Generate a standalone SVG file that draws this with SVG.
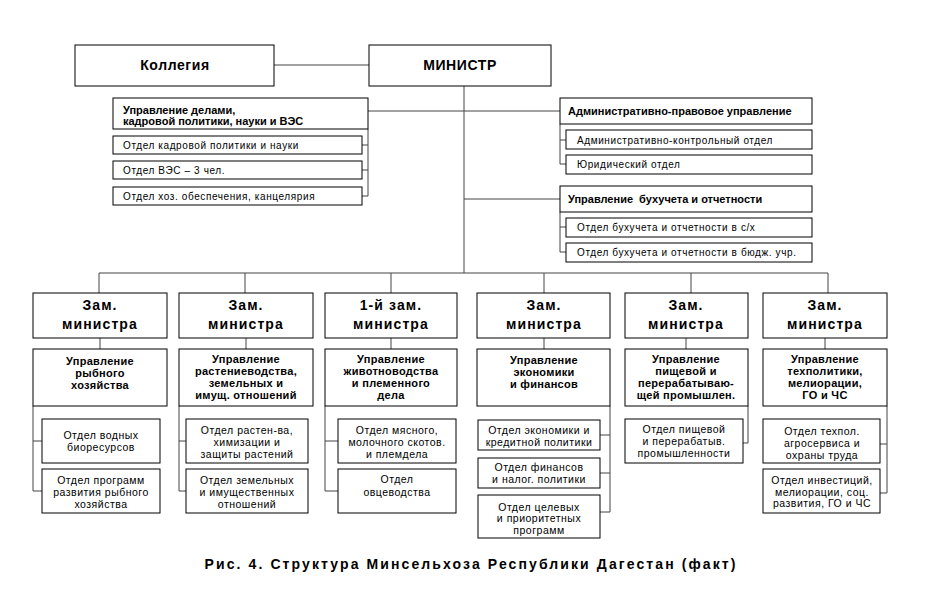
<svg xmlns="http://www.w3.org/2000/svg" width="928" height="600" viewBox="0 0 928 600">
<style>
rect{fill:#fff;stroke:#000;stroke-width:1}
text{font-family:"Liberation Sans",Arial,sans-serif;fill:#000}
.h{font-size:14px;font-weight:bold;letter-spacing:0.6px;text-anchor:middle}
.z{font-size:14px;font-weight:bold;letter-spacing:1.1px;text-anchor:middle}
.b{font-size:11px;font-weight:bold}
.bc{font-size:11px;font-weight:bold;letter-spacing:0.3px;text-anchor:middle}
.s{font-size:10px;letter-spacing:0.6px}
.oc{font-size:10.5px;letter-spacing:0.5px;text-anchor:middle}
.cap{font-size:14px;font-weight:bold;letter-spacing:2.1px;text-anchor:middle}
#connectors path{fill:none;stroke:#444;stroke-width:1}
</style>
<rect x="0" y="0" width="928" height="600" style="fill:#fff;stroke:none"/>
<g id="connectors">
<path d="M274,65H369"/>
<path d="M464,86V273"/>
<path d="M368,111H560"/>
<path d="M464,199H560"/>
<path d="M368,129V196M362,145H368M362,170H368M362,196H368"/>
<path d="M560,124V164M560,140H566M560,164H566"/>
<path d="M560,212V252M560,227H566M560,252H566"/>
<path d="M99,273H828"/>
<path d="M99,273V293M245,273V293M391,273V293M544,273V293M691,273V293M828,273V293"/>
<path d="M100,338V349M246,338V349M391,338V349M544,338V349M686,338V349M825,338V349"/>
<path d="M33,406V491M33,441H42M33,491H42"/>
<path d="M179,406V491M179,441H186M179,491H186"/>
<path d="M325,406V491M325,441H338M325,491H338"/>
<path d="M610,406V512M600,435H610M600,473H610M600,512H610"/>
<path d="M748,406V443M743,443H748"/>
<path d="M887,406V493M880,444H887M880,493H887"/>
</g>
<g id="kollegiya"><rect x="75" y="45" width="199" height="41"/><text class="h" x="175" y="70">Коллегия</text></g>
<g id="ministr"><rect x="369" y="45" width="182" height="41"/><text class="h" x="460" y="70">МИНИСТР</text></g>
<g id="upr-delami"><rect x="113" y="98" width="255" height="31"/><text class="b" x="123" y="114">Управление делами,</text><text class="b" x="123" y="125">кадровой политики, науки и ВЭС</text></g>
<g id="otd-kadr"><rect x="113" y="136" width="249" height="18"/><text class="s" x="123" y="149">Отдел кадровой политики и науки</text></g>
<g id="otd-ves"><rect x="113" y="161" width="249" height="18"/><text class="s" x="123" y="174">Отдел ВЭС – 3 чел.</text></g>
<g id="otd-hoz"><rect x="113" y="187" width="249" height="18"/><text class="s" x="123" y="200">Отдел хоз. обеспечения, канцелярия</text></g>
<g id="upr-admin"><rect x="560" y="98" width="252" height="26"/><text class="b" x="568" y="115">Административно-правовое управление</text></g>
<g id="otd-admkontr"><rect x="566" y="130" width="246" height="19"/><text class="s" x="577" y="144">Административно-контрольный отдел</text></g>
<g id="otd-yur"><rect x="566" y="155" width="246" height="19"/><text class="s" x="577" y="168">Юридический отдел</text></g>
<g id="upr-buh"><rect x="560" y="186" width="252" height="26"/><text class="b" x="568" y="203" xml:space="preserve">Управление  бухучета и отчетности</text></g>
<g id="otd-buh-sx"><rect x="566" y="218" width="246" height="19"/><text class="s" x="577" y="231">Отдел бухучета и отчетности в с/х</text></g>
<g id="otd-buh-bud"><rect x="566" y="243" width="246" height="19"/><text class="s" x="577" y="256">Отдел бухучета и отчетности в бюдж. учр.</text></g>

<g id="zam1"><rect x="33" y="293" width="134" height="45"/><text class="z" x="100" y="310">Зам.</text><text class="z" x="100" y="329">министра</text></g>
<g id="zam2"><rect x="179" y="293" width="134" height="45"/><text class="z" x="246" y="310">Зам.</text><text class="z" x="246" y="329">министра</text></g>
<g id="zam3"><rect x="325" y="293" width="132" height="45"/><text class="z" x="391" y="310">1-й зам.</text><text class="z" x="391" y="329">министра</text></g>
<g id="zam4"><rect x="477" y="293" width="133" height="45"/><text class="z" x="544" y="310">Зам.</text><text class="z" x="544" y="329">министра</text></g>
<g id="zam5"><rect x="625" y="293" width="123" height="45"/><text class="z" x="686" y="310">Зам.</text><text class="z" x="686" y="329">министра</text></g>
<g id="zam6"><rect x="763" y="293" width="124" height="45"/><text class="z" x="825" y="310">Зам.</text><text class="z" x="825" y="329">министра</text></g>

<g id="upr-ryb"><rect x="33" y="349" width="134" height="57"/><text class="bc" x="100" y="365">Управление</text><text class="bc" x="100" y="377">рыбного</text><text class="bc" x="100" y="389">хозяйства</text></g>
<g id="upr-rast"><rect x="179" y="349" width="134" height="57"/><text class="bc" x="246" y="363">Управление</text><text class="bc" x="246" y="375">растениеводства,</text><text class="bc" x="246" y="387">земельных и</text><text class="bc" x="246" y="399">имущ. отношений</text></g>
<g id="upr-zhiv"><rect x="325" y="349" width="132" height="57"/><text class="bc" x="391" y="363">Управление</text><text class="bc" x="391" y="375">животноводства</text><text class="bc" x="391" y="387">и племенного</text><text class="bc" x="391" y="399">дела</text></g>
<g id="upr-ekon"><rect x="477" y="349" width="133" height="57"/><text class="bc" x="544" y="364">Управление</text><text class="bc" x="544" y="376">экономики</text><text class="bc" x="544" y="388">и финансов</text></g>
<g id="upr-pish"><rect x="625" y="349" width="123" height="57"/><text class="bc" x="686" y="363">Управление</text><text class="bc" x="686" y="375">пищевой и</text><text class="bc" x="686" y="387">перерабатываю-</text><text class="bc" x="686" y="399">щей промышлен.</text></g>
<g id="upr-tehpol"><rect x="763" y="349" width="124" height="57"/><text class="bc" x="825" y="363">Управление</text><text class="bc" x="825" y="375">техполитики,</text><text class="bc" x="825" y="387">мелиорации,</text><text class="bc" x="825" y="399">ГО и ЧС</text></g>

<g id="otd-vodn"><rect x="42" y="419" width="118" height="44"/><text class="oc" x="101" y="439">Отдел водных</text><text class="oc" x="101" y="451">биоресурсов</text></g>
<g id="otd-progr"><rect x="42" y="469" width="118" height="44"/><text class="oc" x="101" y="484">Отдел программ</text><text class="oc" x="101" y="496">развития рыбного</text><text class="oc" x="101" y="508">хозяйства</text></g>
<g id="otd-rast"><rect x="186" y="419" width="122" height="44"/><text class="oc" x="247" y="434">Отдел растен-ва,</text><text class="oc" x="247" y="446">химизации и</text><text class="oc" x="247" y="458">защиты растений</text></g>
<g id="otd-zem"><rect x="186" y="469" width="122" height="44"/><text class="oc" x="247" y="484">Отдел земельных</text><text class="oc" x="247" y="496">и имущественных</text><text class="oc" x="247" y="508">отношений</text></g>
<g id="otd-myas"><rect x="338" y="419" width="118" height="44"/><text class="oc" x="397" y="434">Отдел мясного,</text><text class="oc" x="397" y="446">молочного скотов.</text><text class="oc" x="397" y="458">и племдела</text></g>
<g id="otd-ovc"><rect x="338" y="469" width="118" height="44"/><text class="oc" x="397" y="483">Отдел</text><text class="oc" x="397" y="496">овцеводства</text></g>
<g id="otd-ekon"><rect x="478" y="420" width="122" height="30"/><text class="oc" x="539" y="434">Отдел экономики и</text><text class="oc" x="539" y="446">кредитной политики</text></g>
<g id="otd-fin"><rect x="478" y="458" width="122" height="30"/><text class="oc" x="539" y="471">Отдел финансов</text><text class="oc" x="539" y="483">и налог. политики</text></g>
<g id="otd-cel"><rect x="478" y="495" width="122" height="43"/><text class="oc" x="539" y="511">Отдел целевых</text><text class="oc" x="539" y="522">и приоритетных</text><text class="oc" x="539" y="534">программ</text></g>
<g id="otd-pish"><rect x="625" y="419" width="118" height="44"/><text class="oc" x="684" y="433">Отдел пищевой</text><text class="oc" x="684" y="445">и перерабатыв.</text><text class="oc" x="684" y="457">промышленности</text></g>
<g id="otd-tehpol"><rect x="763" y="419" width="117" height="44"/><text class="oc" x="822" y="435">Отдел техпол.</text><text class="oc" x="822" y="447">агросервиса и</text><text class="oc" x="822" y="459">охраны труда</text></g>
<g id="otd-invest"><rect x="763" y="469" width="117" height="44"/><text class="oc" x="822" y="484">Отдел инвестиций,</text><text class="oc" x="822" y="496">мелиорации, соц.</text><text class="oc" x="822" y="507">развития, ГО и ЧС</text></g>

<text class="cap" x="471" y="569">Рис. 4. Структура Минсельхоза Республики Дагестан (факт)</text>
</svg>
